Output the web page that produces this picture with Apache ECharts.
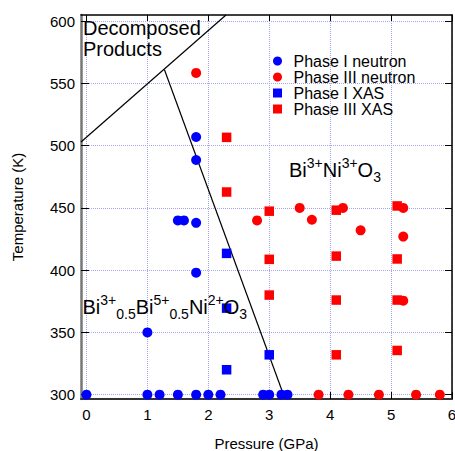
<!DOCTYPE html>
<html>
<head>
<meta charset="utf-8">
<script src="https://cdn.jsdelivr.net/npm/echarts@6/dist/echarts.min.js"></script>
<style>
html,body{margin:0;padding:0;background:#fff;}
#chart{width:455px;height:451px;}
</style>
</head>
<body>
<div id="chart"></div>
<script>
// ---- data ----
var xTicks = [0, 1, 2, 3, 4, 5, 6];
var yTicks = [300, 350, 400, 450, 500, 550, 600];

var phaseINeutronP = [0, 1.0, 1.2, 1.5, 1.8, 2.0, 2.2, 2.9, 3.0, 3.2, 3.3, 1.0, 1.8, 1.5, 1.6, 1.8, 1.8, 1.8];
var phaseINeutronT = [300, 300, 300, 300, 300, 300, 300, 300, 300, 300, 300, 350, 398, 440, 440, 438, 488.5, 507];

var phaseIIINeutronP = [1.8, 2.8, 3.5, 3.7, 4.21, 4.5, 5.2, 5.2, 5.2, 3.81, 4.3, 4.8, 5.41, 5.8];
var phaseIIINeutronT = [558.5, 440, 450, 440.5, 450, 432, 450, 427, 375.5, 300, 300, 300, 300, 300];

var phaseIXasP = [2.3, 2.3, 2.3, 3.0];
var phaseIXasT = [413.5, 369.5, 320, 332];

var phaseIIIXasP = [2.3, 2.3, 3.0, 3.0, 3.0, 4.1, 4.1, 4.1, 4.1, 5.1, 5.1, 5.1, 5.1];
var phaseIIIXasT = [506.7, 462.8, 447.4, 408.7, 380, 448.2, 411.3, 376, 332, 451.6, 409, 376, 335.5];

var decompLineP = [-0.09, 2.29];
var decompLineT = [503, 605];
var boundaryLineP = [1.28, 3.26];
var boundaryLineT = [561, 296.5];

var seriesNames = ['Phase I neutron', 'Phase III neutron', 'Phase I XAS', 'Phase III XAS'];

function pairs(xs, ys) { return xs.map(function (x, i) { return [x, ys[i]]; }); }

var FONT = '"Liberation Sans", Arial, Helvetica, sans-serif';
var BLUE = '#0000ff', RED = '#ff0000';
var gridColor = '#a4a4f4';

var rich = {
  n: { fontSize: 20, fontFamily: FONT, lineHeight: 28, fill: '#000', color: '#000' },
  sup: { fontSize: 14, fontFamily: FONT, lineHeight: 14, verticalAlign: 'top', fill: '#000', color: '#000' },
  sub: { fontSize: 14, fontFamily: FONT, lineHeight: 14, verticalAlign: 'bottom', fill: '#000', color: '#000' }
};

var chart = echarts.init(document.getElementById('chart'), null, { renderer: 'svg' });

var option = {
  backgroundColor: '#fff',
  animation: false,
  textStyle: { fontFamily: FONT },
  grid: { left: 81, right: 3, top: 15, bottom: 52, containLabel: false, outerBoundsMode: 'none' },
  legend: {
    data: [
      { name: seriesNames[0], icon: 'circle' },
      { name: seriesNames[1], icon: 'circle' },
      { name: seriesNames[2], icon: 'path://M0 0H10V10H0Z' },
      { name: seriesNames[3], icon: 'path://M0 0H10V10H0Z' }
    ],
    orient: 'vertical',
    left: 273, top: 53, padding: 0,
    itemWidth: 22, itemHeight: 9, itemGap: 0,
    symbolKeepAspect: true,
    selectedMode: false,
    textStyle: { fontSize: 16, color: '#000', fontFamily: FONT, lineHeight: 15.5 }
  },
  xAxis: [{
    type: 'value', min: -0.09, max: 6, position: 'bottom',
    name: 'Pressure (GPa)', nameLocation: 'middle', nameGap: 37,
    nameTextStyle: { fontSize: 15, color: '#000', fontFamily: FONT },
    axisLine: { show: true, onZero: false, lineStyle: { color: '#333', width: 2 } },
    axisTick: { show: true, inside: true, length: 7, customValues: xTicks, lineStyle: { color: '#000', width: 1 } },
    axisLabel: { show: true, customValues: xTicks, fontSize: 15, color: '#000', margin: 8, fontFamily: FONT },
    splitLine: { show: true, lineStyle: { color: gridColor, width: 1, type: [1, 1] } }
  }, {
    type: 'value', min: -0.09, max: 6, position: 'top',
    axisLine: { show: true, onZero: false, lineStyle: { color: '#000', width: 1.5 } },
    axisTick: { show: true, inside: true, length: 6, customValues: xTicks, lineStyle: { color: '#000', width: 1 } },
    axisLabel: { show: false },
    splitLine: { show: false }
  }],
  yAxis: [{
    type: 'value', min: 296.5, max: 605, position: 'left',
    name: 'Temperature (K)', nameLocation: 'middle', nameGap: 56, nameRotate: 90,
    nameTextStyle: { fontSize: 15, color: '#000', fontFamily: FONT },
    axisLine: { show: true, onZero: false, lineStyle: { color: '#777', width: 2.5 } },
    axisTick: { show: true, inside: true, length: 8, customValues: yTicks, lineStyle: { color: '#000', width: 1 } },
    axisLabel: { show: true, customValues: yTicks, fontSize: 15, color: '#000', margin: 6, fontFamily: FONT },
    splitLine: { show: true, lineStyle: { color: gridColor, width: 1, type: [1, 1] } }
  }, {
    type: 'value', min: 296.5, max: 605, position: 'right',
    axisLine: { show: true, onZero: false, lineStyle: { color: '#000', width: 1.5 } },
    axisTick: { show: true, inside: true, length: 7, customValues: yTicks, lineStyle: { color: '#000', width: 1 } },
    axisLabel: { show: false },
    splitLine: { show: false }
  }],
  series: [
    { type: 'line', data: pairs(decompLineP, decompLineT), symbol: 'none', silent: true,
      lineStyle: { color: '#000', width: 1.2 }, z: 1, clip: true },
    { type: 'line', data: pairs(boundaryLineP, boundaryLineT), symbol: 'none', silent: true,
      lineStyle: { color: '#000', width: 1.2 }, z: 1, clip: true },
    { name: seriesNames[0], type: 'scatter', symbol: 'circle', symbolSize: 10,
      itemStyle: { color: BLUE, opacity: 1 }, data: pairs(phaseINeutronP, phaseINeutronT), z: 3 },
    { name: seriesNames[1], type: 'scatter', symbol: 'circle', symbolSize: 10,
      itemStyle: { color: RED, opacity: 1 }, data: pairs(phaseIIINeutronP, phaseIIINeutronT), z: 3 },
    { name: seriesNames[2], type: 'scatter', symbol: 'rect', symbolSize: 9.5,
      itemStyle: { color: BLUE, opacity: 1 }, data: pairs(phaseIXasP, phaseIXasT), z: 3 },
    { name: seriesNames[3], type: 'scatter', symbol: 'rect', symbolSize: 9.5,
      itemStyle: { color: RED, opacity: 1 }, data: pairs(phaseIIIXasP, phaseIIIXasT), z: 3 }
  ],
  graphic: [
    { type: 'text', left: 83, top: 17, z: 10,
      style: { text: 'Decomposed\nProducts', fontSize: 20, fontFamily: FONT, lineHeight: 21, fill: '#000' } },
    { type: 'text', left: 289, top: 156, z: 10,
      style: { text: '{n|Bi}{sup|3+}{n|Ni}{sup|3+}{n|O}{sub|3}', rich: rich, fill: '#000' } },
    { type: 'text', left: 82.5, top: 293, z: 10,
      style: { text: '{n|Bi}{sup|3+}{sub|0.5}{n|Bi}{sup|5+}{sub|0.5}{n|Ni}{sup|2+}{n|O}{sub|3}', rich: rich, fill: '#000' } }
  ]
};

chart.setOption(option);
</script>
</body>
</html>
